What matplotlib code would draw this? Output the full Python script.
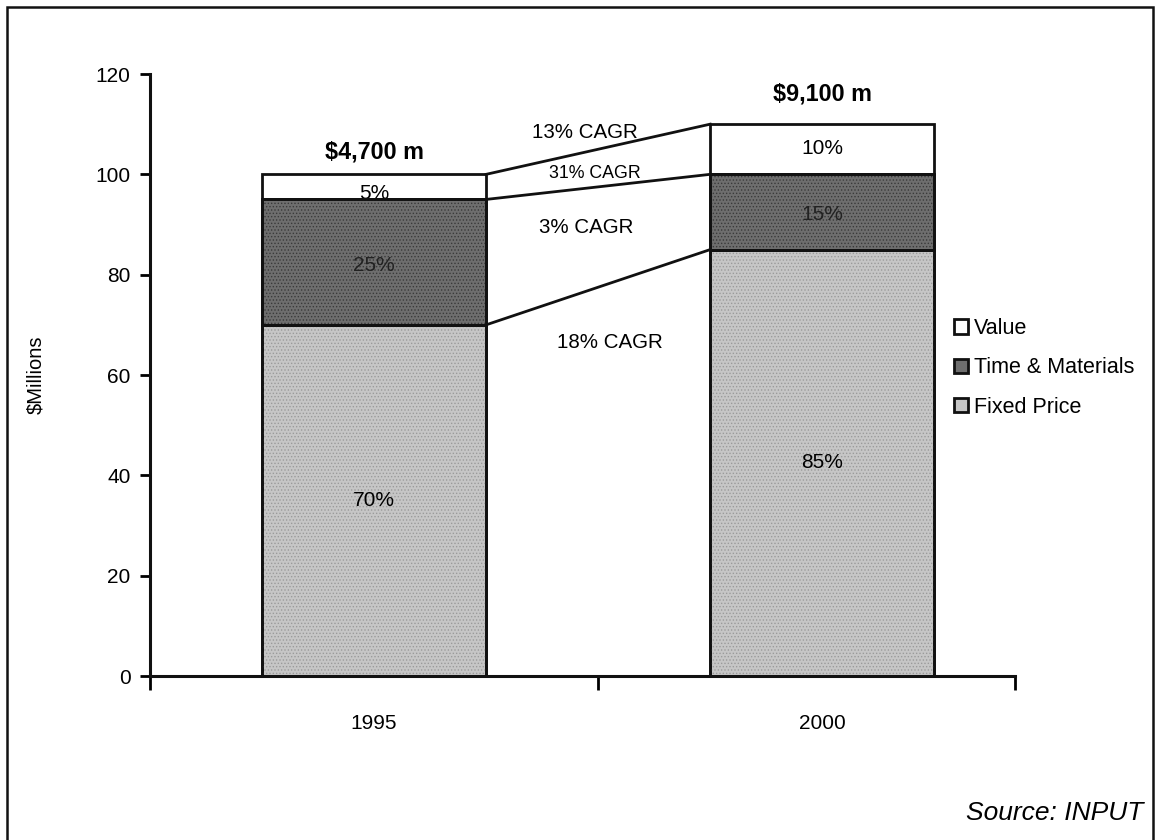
import matplotlib.pyplot as plt
from matplotlib.patches import Rectangle

plt.rcParams['font.family'] = ['Liberation Sans', 'DejaVu Sans']
plt.rcParams['hatch.linewidth'] = 0.6

# contract types, $ millions (share of total)
years = ['1995', '2000']
fixed_price = [70, 85]
time_materials = [25, 15]
value = [5, 10]
totals = ['$4,700 m', '$9,100 m']
fixed_pct = ['70%', '85%']
tm_pct = ['25%', '15%']
value_pct = ['5%', '10%']
cagr = ['13% CAGR', '31% CAGR', '3% CAGR', '18% CAGR']

fig = plt.figure(figsize=(11.57, 8.40), dpi=100)
ax = fig.add_axes([0.1296, 0.1952, 0.7476, 0.7167])

x = [0, 1]
w = 0.5
tm_base = fixed_price
val_base = [f + t for f, t in zip(fixed_price, time_materials)]
tops = [b + v for b, v in zip(val_base, value)]
edge = dict(edgecolor='#111111', linewidth=2.0)

ax.bar(x, value, w, bottom=val_base, color='white', label='Value', zorder=1, **edge)
ax.bar(x, fixed_price, w, color='#c6c6c6', label='Fixed Price', zorder=2, **edge)
ax.bar(x, time_materials, w, bottom=tm_base, color='#6e6e6e', label='Time & Materials', zorder=2, **edge)
# halftone-like stipple on the shaded segments
ax.bar(x, fixed_price, w, facecolor='none', edgecolor='#9a9a9a', hatch='.....', linewidth=0, zorder=2.1)
ax.bar(x, time_materials, w, bottom=tm_base, facecolor='none', edgecolor='#3a3a3a', hatch='.....',
       linewidth=0, zorder=2.1)
ax.bar(x, fixed_price, w, facecolor='none', zorder=2.2, **edge)
ax.bar(x, time_materials, w, bottom=tm_base, facecolor='none', zorder=2.2, **edge)

# growth lines between the two bars
for level in (tops, val_base, tm_base):
    ax.plot([x[0] + w / 2, x[1] - w / 2], level, color='#111111', lw=2.0, zorder=3)

# segment percentages
for i in range(2):
    ax.text(x[i], fixed_price[i] / 2, fixed_pct[i], ha='center', va='center', fontsize=15, zorder=4)
    ax.text(x[i], tm_base[i] + time_materials[i] * 0.47, tm_pct[i], ha='center', va='center',
            fontsize=15, color='#222222', zorder=4)
ax.text(x[0], val_base[0] + value[0] * 0.22, value_pct[0], ha='center', va='center', fontsize=15, zorder=1.5)
ax.text(x[1], val_base[1] + value[1] * 0.52, value_pct[1], ha='center', va='center', fontsize=15, zorder=4)
ax.text(x[0], tops[0] + 4.4, totals[0], ha='center', va='center', fontsize=16.8, fontweight='bold')
ax.text(x[1], tops[1] + 6.0, totals[1], ha='center', va='center', fontsize=16.8, fontweight='bold')

ax.text(0.47, 108.4, cagr[0], ha='center', va='center', fontsize=14.8)
ax.text(0.493, 100.2, cagr[1], ha='center', va='center', fontsize=12.8)
ax.text(0.474, 89.5, cagr[2], ha='center', va='center', fontsize=14.8)
ax.text(0.527, 66.4, cagr[3], ha='center', va='center', fontsize=14.8)

ax.set_xlim(-0.5, 1.43)
ax.set_ylim(0, 120)
ax.set_yticks(range(0, 121, 20))
ax.set_xticks([-0.5, 0.5, 1.43])
ax.set_xticklabels([])
ax.set_xticks(x, minor=True)
ax.set_xticklabels(years, minor=True)
ax.tick_params(axis='x', which='minor', length=0, pad=27, labelsize=15)
ax.tick_params(axis='x', which='major', length=10, width=2, direction='out')
ax.tick_params(axis='y', length=7, width=2, labelsize=15, pad=7)
for s in ('top', 'right'):
    ax.spines[s].set_visible(False)
for s in ('left', 'bottom'):
    ax.spines[s].set_linewidth(2.2)
    ax.spines[s].set_color('#111111')
ax.set_ylabel('$Millions', fontsize=14.5, labelpad=36)

h = {lab: hd for hd, lab in zip(*ax.get_legend_handles_labels())}
order = ['Value', 'Time & Materials', 'Fixed Price']
leg = ax.legend([h[k] for k in order], order, loc='center left', bbox_to_anchor=(0.93, 0.512),
                frameon=False, fontsize=15.5, handlelength=0.65, handleheight=0.65,
                handletextpad=0.25, labelspacing=0.85, borderpad=0, borderaxespad=0)

fig.text(1143 / 1157, 1 - 813 / 840, 'Source: INPUT', ha='right', va='center', fontsize=19, style='italic')

# page frame
fig.patches.append(Rectangle((7 / 1157, -0.1), 1146 / 1157, 1.1 - 7 / 840, transform=fig.transFigure,
                             fill=False, edgecolor='#111111', linewidth=1.8))

fig.savefig('out.png', dpi=100)
